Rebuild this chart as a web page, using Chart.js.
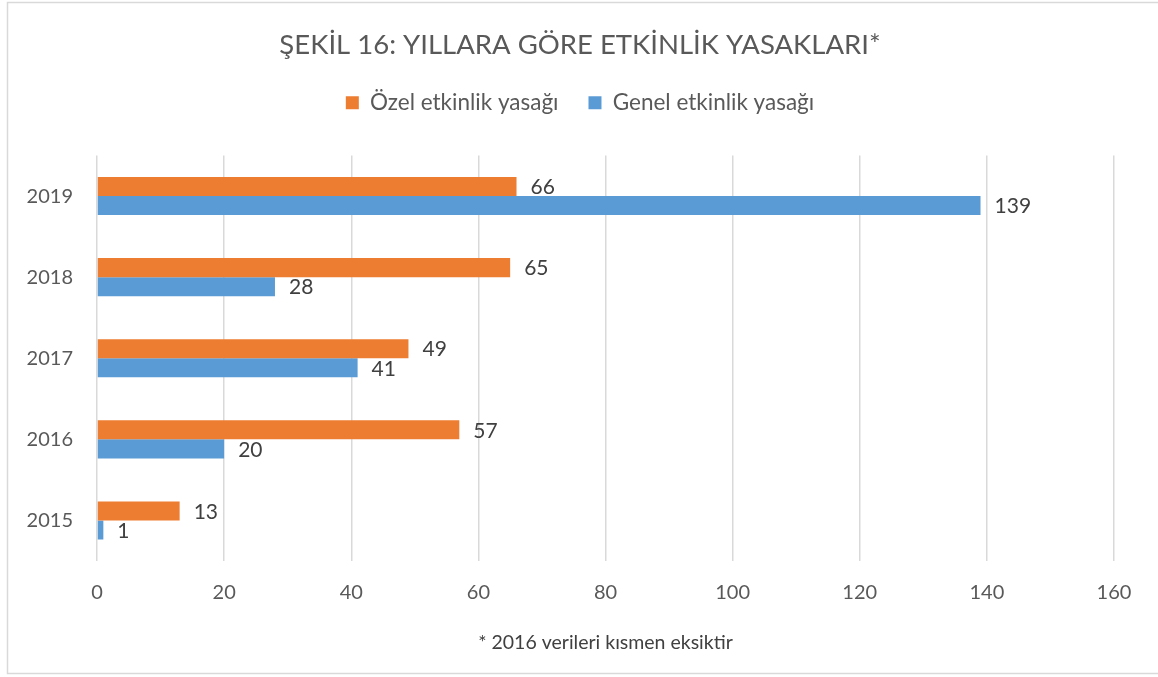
<!DOCTYPE html>
<html>
<head>
<meta charset="utf-8">
<script src="https://cdn.jsdelivr.net/npm/chart.js@4"></script>
<style>
  html, body { margin: 0; padding: 0; background: #fff; }
  #wrap { width: 1158px; height: 677px; position: relative; }
</style>
</head>
<body>
<div id="wrap"><canvas id="chart"></canvas></div>
<script>
// --------------------- Data ---------------------
const years = ['2019', '2018', '2017', '2016', '2015'];
const ozelYasak = [66, 65, 49, 57, 13];
const genelYasak = [139, 28, 41, 20, 1];
const xTicks = [0, 20, 40, 60, 80, 100, 120, 140, 160];

const titleText = 'ŞEKİL 16: YILLARA GÖRE ETKİNLİK YASAKLARI*';
const footText = '* 2016 verileri kısmen eksiktir';

const FONT = 'Lato, "Open Sans", sans-serif';

// --------------------- Plugins ---------------------
// outer frame + footnote
const framePlugin = {
  id: 'frame',
  beforeDraw(chart) {
    const ctx = chart.ctx;
    ctx.save();
    ctx.fillStyle = '#fff';
    ctx.fillRect(0, 0, chart.width, chart.height);
    ctx.strokeStyle = '#d9d9d9';
    ctx.lineWidth = 1.5;
    ctx.strokeRect(7.5, 2.5, chart.width + 20, 671);
    ctx.restore();
  },
  afterDraw(chart) {
    const ctx = chart.ctx;
    const area = chart.chartArea;
    ctx.save();
    ctx.font = '19.5px ' + FONT;
    ctx.fillStyle = '#404040';
    ctx.textAlign = 'center';
    ctx.textBaseline = 'middle';
    ctx.fillText(footText, (area.left + area.right) / 2, 643);
    ctx.restore();
  }
};

// value labels after each bar
const valueLabels = {
  id: 'valueLabels',
  afterDatasetsDraw(chart) {
    const ctx = chart.ctx;
    ctx.save();
    ctx.font = '21px ' + FONT;
    ctx.fillStyle = '#404040';
    ctx.textAlign = 'left';
    ctx.textBaseline = 'middle';
    chart.data.datasets.forEach((ds, i) => {
      chart.getDatasetMeta(i).data.forEach((bar, j) => {
        ctx.fillText(ds.data[j], bar.x + 14, bar.y + 1);
      });
    });
    ctx.restore();
  }
};

// --------------------- Chart ---------------------
new Chart(document.getElementById('chart'), {
  type: 'bar',
  data: {
    labels: years,
    datasets: [
      {
        label: 'Özel etkinlik yasağı',
        data: ozelYasak,
        backgroundColor: '#ED7D31',
        xAxisID: 'x',
        yAxisID: 'y'
      },
      {
        label: 'Genel etkinlik yasağı',
        data: genelYasak,
        backgroundColor: '#5B9BD5',
        xAxisID: 'x',
        yAxisID: 'y'
      }
    ]
  },
  options: {
    indexAxis: 'y',
    responsive: true,
    maintainAspectRatio: false,
    animation: false,
    categoryPercentage: 0.47,
    barPercentage: 1.0,
    layout: { padding: { left: 9, right: 7, top: 10, bottom: 52 } },
    scales: {
      x: {
        min: 0,
        max: 160,
        afterBuildTicks: axis => { axis.ticks = xTicks.map(v => ({ value: v })); },
        grid: { color: '#d9d9d9', lineWidth: 1.5, drawTicks: false },
        border: { display: false },
        ticks: { color: '#595959', font: { family: FONT, size: 20 }, padding: 20 }
      },
      y: {
        type: 'category',
        afterFit: axis => { axis.width = 88; },
        grid: { display: false, drawTicks: false },
        border: { display: false },
        ticks: { color: '#595959', font: { family: FONT, size: 20 }, padding: 24 }
      },
      // empty spacers (legend gap on top, right margin)
      xTop: {
        type: 'linear',
        axis: 'x',
        position: 'top',
        display: true,
        grid: { display: false, drawTicks: false },
        border: { display: false },
        ticks: { display: false },
        afterFit: axis => { axis.height = 31.5; }
      },
      yRight: {
        type: 'linear',
        axis: 'y',
        position: 'right',
        display: true,
        grid: { display: false, drawTicks: false },
        border: { display: false },
        ticks: { display: false },
        afterFit: axis => { axis.width = 37; }
      }
    },
    plugins: {
      title: {
        display: true,
        text: titleText,
        color: '#595959',
        font: { family: FONT, size: 27.5, weight: 'normal' },
        padding: { top: 18.5, bottom: 0 }
      },
      legend: {
        display: true,
        position: 'top',
        labels: {
          color: '#595959',
          font: { family: FONT, size: 22.5 },
          boxWidth: 13,
          boxHeight: 13,
          padding: 30
        }
      },
      tooltip: { enabled: false }
    }
  },
  plugins: [framePlugin, valueLabels]
});
</script>
</body>
</html>
